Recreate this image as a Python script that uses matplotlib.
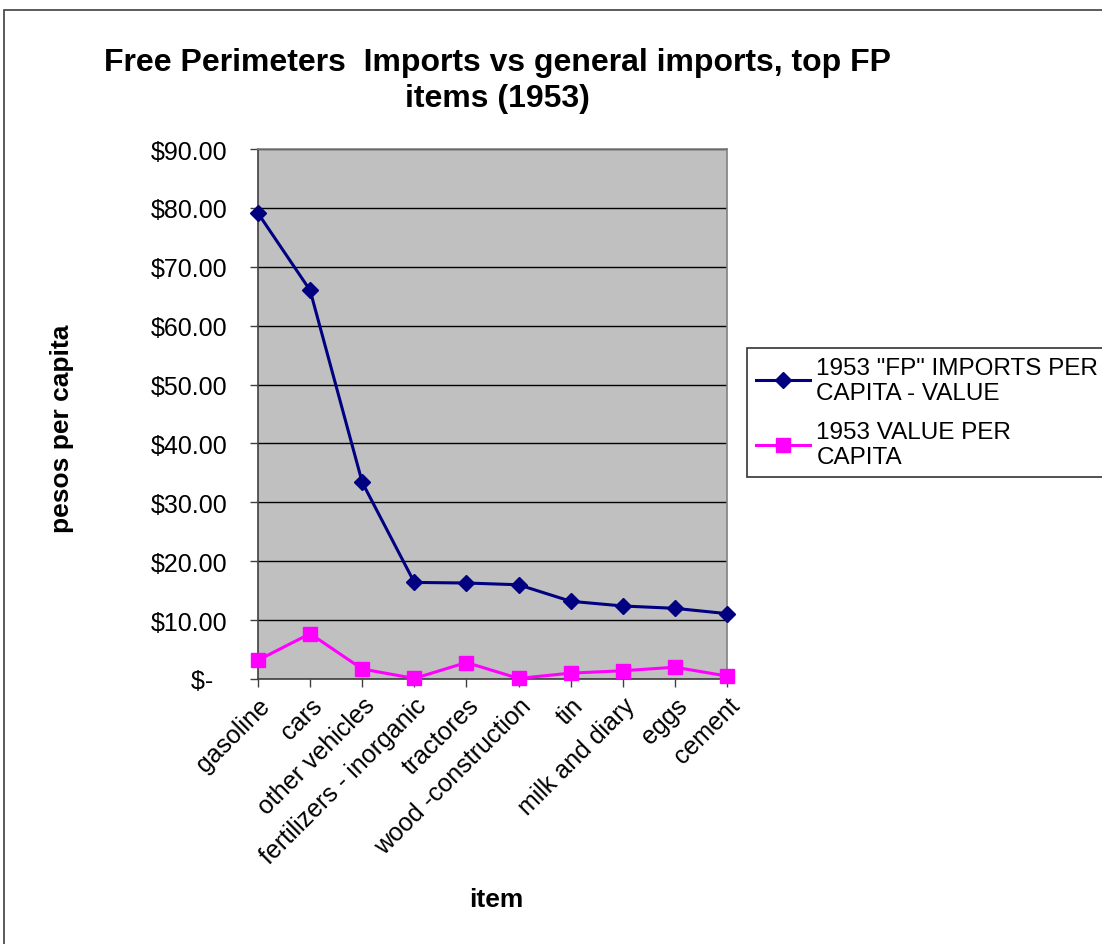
import numpy as np
import matplotlib
matplotlib.use('Agg')
import matplotlib.pyplot as plt
from matplotlib.ticker import FuncFormatter
from matplotlib.patches import Rectangle

plt.rcParams['font.family'] = ['Liberation Sans', 'DejaVu Sans']

# data
items = ['gasoline', 'cars', 'other vehicles', 'fertilizers - inorganic', 'tractores',
         'wood -construction', 'tin', 'milk and diary', 'eggs', 'cement']
fp_imports = [79.1, 66.0, 33.4, 16.4, 16.3, 16.0, 13.2, 12.4, 12.0, 11.1]
general_imports = [3.2, 7.7, 1.7, 0.1, 2.8, 0.1, 1.0, 1.4, 2.0, 0.5]
fp_label = '1953 "FP" IMPORTS PER\nCAPITA - VALUE'
gen_label = '1953 VALUE PER\nCAPITA'

fig = plt.figure(figsize=(11.02, 9.45), dpi=100)
# outer chart border
fig.patches.append(Rectangle((4 / 1102, -0.01), 1.02, 1 - 11 / 945 + 0.01, transform=fig.transFigure,
                             fill=False, edgecolor='#404040', linewidth=1.2))

ax = fig.add_axes([258 / 1102, 1 - 680 / 945, (727 - 258) / 1102, (680 - 150) / 945])
ax.set_facecolor('#c0c0c0')

x = np.arange(len(items))
ax.plot(x, fp_imports, color='#000080', marker='D', markersize=8, linewidth=2.2,
        label=fp_label, clip_on=False, zorder=4)
ax.plot(x, general_imports, color='#ff00ff', marker='s', markersize=10.5, linewidth=2.2,
        label=gen_label, clip_on=False, zorder=3)

ax.set_xlim(0, len(items) - 1)
ax.set_ylim(0, 90)
ax.set_yticks(np.arange(0, 91, 10))
ax.yaxis.set_major_formatter(FuncFormatter(lambda v, p: '$-  ' if v == 0 else '${:,.2f}'.format(v)))
ax.grid(axis='y', color='black', linewidth=1)
ax.set_axisbelow(True)
ax.set_xticks(x)
ax.set_xticklabels(items, rotation=45, ha='right', va='top', rotation_mode='anchor')
ax.tick_params(axis='both', labelsize=18, direction='out', length=6, width=1, color='#404040')
ax.tick_params(axis='y', pad=16)
ax.tick_params(axis='x', pad=4)
for s in ax.spines.values():
    s.set_color('#808080')
    s.set_linewidth(1.2)
ax.spines['left'].set_color('#404040')
ax.spines['bottom'].set_color('#404040')

ax.set_ylabel('pesos per capita', fontsize=19, fontweight='bold')
ax.yaxis.set_label_coords(62 / 1102, 1 - 429 / 945, transform=fig.transFigure)
ax.set_xlabel('item', fontsize=19, fontweight='bold')
ax.xaxis.set_label_coords(496 / 1102, 1 - 900 / 945, transform=fig.transFigure)
ax.xaxis.label.set_va('center')
ax.yaxis.label.set_va('center')

fig.text(497 / 1102, 1 - 81 / 945, 'Free Perimeters  Imports vs general imports, top FP\nitems (1953)',
         ha='center', va='center', fontsize=23, fontweight='bold', linespacing=1.3)

leg = ax.legend(loc='upper left', bbox_to_anchor=(747 / 1102, 1 - 349 / 945), bbox_transform=fig.transFigure,
                fontsize=17.5, frameon=True, fancybox=False, edgecolor='black', handlelength=2.25,
                handletextpad=0.25, borderpad=0.35, borderaxespad=0, labelspacing=0.7)
leg.get_frame().set_linewidth(1.2)

fig.savefig('out.png', dpi=100)
